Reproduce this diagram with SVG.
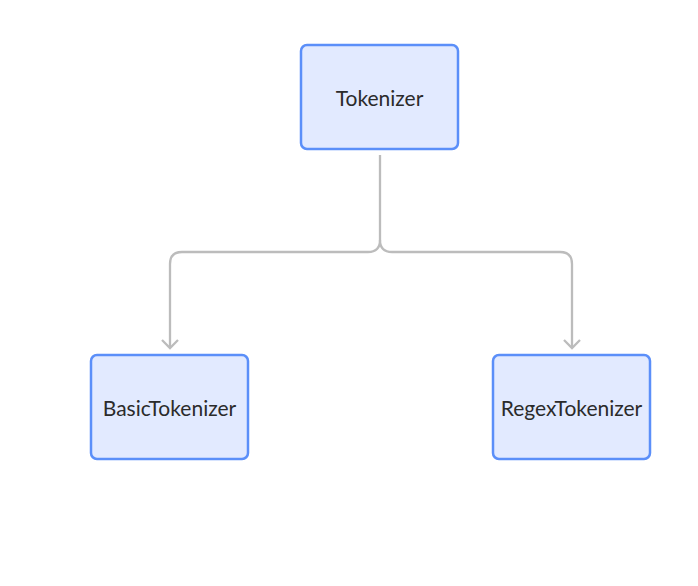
<svg xmlns="http://www.w3.org/2000/svg" width="698" height="586" viewBox="0 0 698 586">
<defs>
<style>
.node rect{fill:#e2eaff;stroke:#5b8ff9;stroke-width:2.5}
.node text{font-family:Lato,"Open Sans",sans-serif;font-size:21px;fill:#2b2b2b;text-anchor:middle;dominant-baseline:central}
.edge{fill:none;stroke:#bcbcbc;stroke-width:2.3}
</style>
</defs>
<rect width="698" height="586" fill="#fff"/>
<g id="connectors">
<path class="edge" d="M380,155 L380,240 Q380,252 368,252 L182,252 Q170,252 170,264 L170,348"/>
<path class="edge" d="M380,240 Q380,252 392,252 L560,252 Q572,252 572,264 L572,348"/>
<path class="edge" d="M162,340 L170,348 L178,340"/>
<path class="edge" d="M564,340 L572,348 L580,340"/>
</g>
<g id="tokenizer" class="node">
<rect x="301" y="45" width="157" height="104" rx="6"/>
<text x="379.5" y="97">Tokenizer</text>
</g>
<g id="basic" class="node">
<rect x="91" y="355" width="157" height="104" rx="6"/>
<text x="169.5" y="407.5">BasicTokenizer</text>
</g>
<g id="regex" class="node">
<rect x="493" y="355" width="157" height="104" rx="6"/>
<text x="571.5" y="407.5">RegexTokenizer</text>
</g>
</svg>
